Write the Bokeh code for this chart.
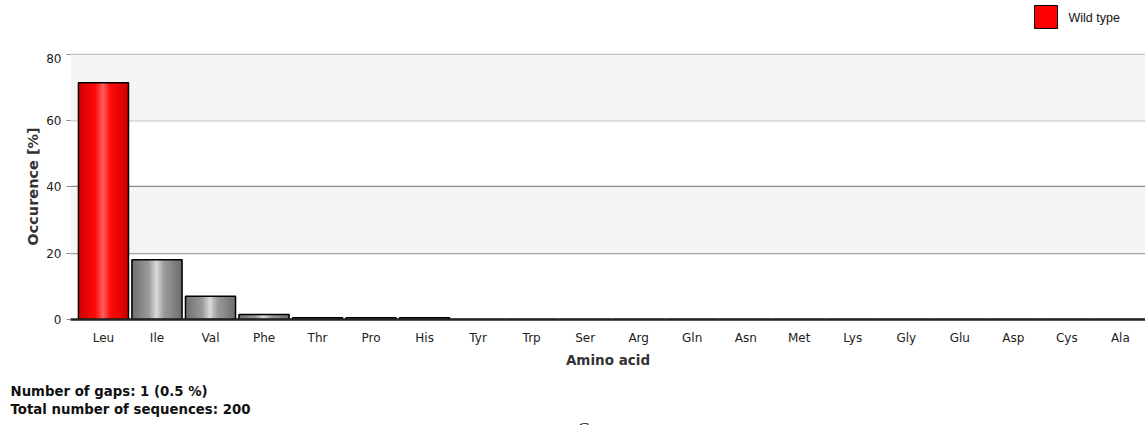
from bokeh.plotting import figure
from bokeh.layouts import column
from bokeh.models import Range1d, FixedTicker, BoxAnnotation, ColumnDataSource
from bokeh.core.properties import value
from bokeh.embed import file_html
from bokeh.resources import INLINE

# ---------------- data ----------------
amino_acids = ["Leu", "Ile", "Val", "Phe", "Thr", "Pro", "His", "Tyr", "Trp", "Ser",
               "Arg", "Gln", "Asn", "Met", "Lys", "Gly", "Glu", "Asp", "Cys", "Ala"]
occurrence = [71.5, 18.0, 7.0, 1.5, 0.5, 0.5, 0.5, 0, 0, 0,
              0, 0, 0, 0, 0, 0, 0, 0, 0, 0]
wild_type = "Leu"
legend_label = "Wild type"
y_ticks = [0, 20, 40, 60, 80]
footer_lines = ["Number of gaps: 1 (0.5 %)", "Total number of sequences: 200"]

# ---------------- layout (pixels) ----------------
W, H = 1145, 425
FL, FR = 70, 1145          # frame left/right
TOP_H = 53                 # strip above the frame (legend)
FB = 320                   # frame bottom in page pixels
MAIN_BOTTOM = 370          # bottom of the main figure
x0, x1 = -0.616, 19.47
y0, y1 = 0, 80.3

# ---------------- top strip: legend ----------------
top = figure(width=W, height=TOP_H, output_backend="svg", toolbar_location=None,
             x_range=Range1d(0, W), y_range=Range1d(TOP_H, 0),
             min_border=0, x_axis_location=None, y_axis_location=None,
             frame_align=False)
top.outline_line_color = None
top.xgrid.visible = False
top.ygrid.visible = False
top.rect(x=[1045.5], y=[16.5], width=[23], height=[23], fill_color="red",
         line_color="black", line_width=1)
top.text(x=[1068], y=[17], text=[legend_label], text_font=value("Liberation Sans"),
         text_font_size="12.5px", text_color="#111111", text_baseline="middle",
         text_align="left")

# ---------------- main chart ----------------
p = figure(width=W, height=MAIN_BOTTOM - TOP_H, output_backend="svg",
           toolbar_location=None, x_range=Range1d(x0, x1), y_range=Range1d(y0, y1),
           min_border_left=FL, min_border_right=W - FR, min_border_top=0,
           min_border_bottom=MAIN_BOTTOM - FB, frame_align=False)
p.outline_line_color = None
p.background_fill_color = "white"

for lo, hi in [(20, 40), (60, 80)]:
    p.add_layout(BoxAnnotation(bottom=lo, top=hi, fill_color="#f5f5f5", fill_alpha=1,
                               line_color=None, level="underlay"))

xs = list(range(len(amino_acids)))
bar_w = 0.935

# cylindrical shading simulated with narrow strips
n = 41
def mix(a, b, t):
    return tuple(int(round(u + (v - u) * t)) for u, v in zip(a, b))

def shade(light, base, dark, d):
    if d < 0.3:
        c = mix(light, base, d / 0.3)
    else:
        c = mix(base, dark, (d - 0.3) / 0.7)
    return "#%02x%02x%02x" % c

strip_x, strip_top, strip_col = [], [], []
for i, (aa, v) in enumerate(zip(amino_acids, occurrence)):
    if v <= 0:
        continue
    if aa == wild_type:
        light, base, dark = (255, 95, 95), (255, 10, 10), (205, 0, 0)
    else:
        light, base, dark = (218, 218, 218), (155, 155, 155), (110, 110, 110)
    for k in range(n):
        f = (k + 0.5) / n
        d = abs(f - 0.5) * 2
        strip_x.append(i - bar_w / 2 + f * bar_w)
        strip_top.append(v)
        strip_col.append(shade(light, base, dark, d))
p.vbar(x=strip_x, top=strip_top, width=bar_w / n * 1.8, bottom=0,
       fill_color=strip_col, line_color=None)

src = ColumnDataSource(dict(x=xs, top=occurrence))
p.vbar(x="x", top="top", width=bar_w, bottom=0, source=src,
       fill_color=None, line_color="black", line_width=1.5)

# grid
p.xgrid.grid_line_color = None
p.ygrid.ticker = FixedTicker(ticks=y_ticks)
p.ygrid.grid_line_color = "#8a8a8a"
p.ygrid.grid_line_width = 1.3

# axes
p.xaxis.ticker = FixedTicker(ticks=xs)
p.xaxis.major_label_overrides = {i: a for i, a in enumerate(amino_acids)}
p.xaxis.axis_line_color = "#222222"
p.xaxis.axis_line_width = 2.5
p.xaxis.major_tick_line_color = None
p.xaxis.minor_tick_line_color = None
p.xaxis.major_label_text_font = "DejaVu Sans"
p.xaxis.major_label_text_font_size = "12px"
p.xaxis.major_label_text_color = "#222222"
p.xaxis.major_label_standoff = 5
p.xaxis.axis_label = "Amino acid"
p.xaxis.axis_label_text_font = "DejaVu Sans"
p.xaxis.axis_label_text_font_style = "bold"
p.xaxis.axis_label_text_font_size = "13.5px"
p.xaxis.axis_label_text_color = "#333333"
p.xaxis.axis_label_standoff = 4

p.yaxis.ticker = FixedTicker(ticks=y_ticks)
p.yaxis.axis_line_color = None
p.yaxis.major_tick_out = 4
p.yaxis.major_tick_in = 0
p.yaxis.major_tick_line_color = "#8a8a8a"
p.yaxis.minor_tick_line_color = None
p.yaxis.major_label_text_font = "DejaVu Sans"
p.yaxis.major_label_text_font_size = "12px"
p.yaxis.major_label_text_color = "#222222"
p.yaxis.major_label_standoff = 5
p.yaxis.axis_label = "Occurence [%]"
p.yaxis.axis_label_text_font = "DejaVu Sans"
p.yaxis.axis_label_text_font_style = "bold"
p.yaxis.axis_label_text_font_size = "14.5px"
p.yaxis.axis_label_text_color = "#333333"
p.yaxis.axis_label_standoff = 2

# ---------------- footer ----------------
FOOT_H = H - MAIN_BOTTOM
foot = figure(width=W, height=FOOT_H, output_backend="svg", toolbar_location=None,
              x_range=Range1d(0, W), y_range=Range1d(FOOT_H, 0),
              min_border=0, x_axis_location=None, y_axis_location=None,
              frame_align=False)
foot.outline_line_color = None
foot.xgrid.visible = False
foot.ygrid.visible = False
foot.text(x=[10, 10], y=[391 - MAIN_BOTTOM, 409 - MAIN_BOTTOM], text=footer_lines,
          text_font=value("DejaVu Sans"), text_font_style="bold",
          text_font_size="13.3px", text_color="#111111", text_baseline="middle",
          text_align="left")
foot.text(x=[583], y=[429 - MAIN_BOTTOM], text=["C"], text_font=value("Liberation Serif"),
          text_font_size="18px", text_color="#111111", text_baseline="middle",
          text_align="center")

layout = column(top, p, foot, spacing=0)
open("out.html", "w").write(file_html(layout, INLINE))
